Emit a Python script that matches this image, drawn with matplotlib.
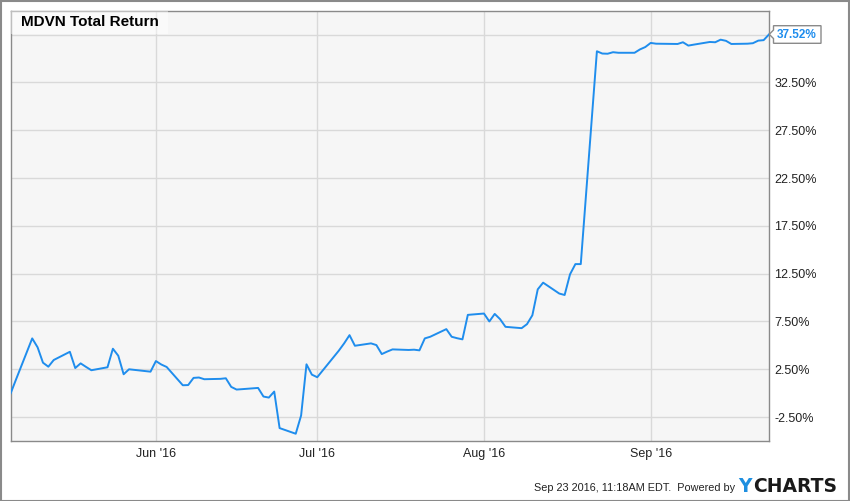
import matplotlib
matplotlib.use("Agg")
import matplotlib.pyplot as plt
from matplotlib.patches import Rectangle, Polygon
import datetime as dt

plt.rcParams['font.family'] = ['Liberation Sans', 'DejaVu Sans']

dates = [
    "2016-05-05", "2016-05-06", "2016-05-09", "2016-05-10", "2016-05-11", "2016-05-12", "2016-05-13",
    "2016-05-16", "2016-05-17", "2016-05-18", "2016-05-19", "2016-05-20",
    "2016-05-23", "2016-05-24", "2016-05-25", "2016-05-26", "2016-05-27",
    "2016-05-31", "2016-06-01", "2016-06-02", "2016-06-03",
    "2016-06-06", "2016-06-07", "2016-06-08", "2016-06-09", "2016-06-10",
    "2016-06-13", "2016-06-14", "2016-06-15", "2016-06-16", "2016-06-17",
    "2016-06-20", "2016-06-21", "2016-06-22", "2016-06-23", "2016-06-24",
    "2016-06-27", "2016-06-28", "2016-06-29", "2016-06-30", "2016-07-01",
    "2016-07-05", "2016-07-06", "2016-07-07", "2016-07-08",
    "2016-07-11", "2016-07-12", "2016-07-13", "2016-07-14", "2016-07-15",
    "2016-07-18", "2016-07-19", "2016-07-20", "2016-07-21", "2016-07-22",
    "2016-07-25", "2016-07-26", "2016-07-27", "2016-07-28", "2016-07-29",
    "2016-08-01", "2016-08-02", "2016-08-03", "2016-08-04", "2016-08-05",
    "2016-08-08", "2016-08-09", "2016-08-10", "2016-08-11", "2016-08-12",
    "2016-08-15", "2016-08-16", "2016-08-17", "2016-08-18", "2016-08-19",
    "2016-08-22", "2016-08-23", "2016-08-24", "2016-08-25", "2016-08-26",
    "2016-08-29", "2016-08-30", "2016-08-31", "2016-09-01", "2016-09-02",
    "2016-09-06", "2016-09-07", "2016-09-08", "2016-09-09",
    "2016-09-12", "2016-09-13", "2016-09-14", "2016-09-15", "2016-09-16",
    "2016-09-19", "2016-09-20", "2016-09-21", "2016-09-22", "2016-09-23",
]
total_return = [
    0.0, 1.45, 5.73, 4.8, 3.19, 2.77, 3.47,
    4.33, 2.63, 3.12, 2.75, 2.40,
    2.71, 4.65, 3.92, 1.98, 2.5,
    2.25, 3.36, 3.0, 2.74,
    0.83, 0.85, 1.6, 1.64, 1.46,
    1.5, 1.56, 0.66, 0.38, 0.42,
    0.55, -0.35, -0.46, 0.17, -3.65,
    -4.24, -2.33, 3.02, 1.94, 1.67,
    4.44, 5.21, 6.07, 4.96,
    5.21, 5.03, 4.09, 4.35, 4.58,
    4.52, 4.55, 4.48, 5.73, 5.9,
    6.7, 5.9, 5.75, 5.63, 8.19,
    8.33, 7.5, 8.29, 7.74, 6.94,
    6.80, 7.22, 8.15, 10.86, 11.56,
    10.42, 10.27, 12.43, 13.5, 13.5,
    35.76, 35.52, 35.5, 35.66, 35.6,
    35.6, 35.95, 36.2, 36.63, 36.55,
    36.52, 36.7, 36.35, 36.45,
    36.73, 36.7, 36.97, 36.85, 36.52,
    36.55, 36.6, 36.87, 36.92, 37.52,
]
ytick_values = [-2.5, 2.5, 7.5, 12.5, 17.5, 22.5, 27.5, 32.5, 37.5]
ytick_labels = ["-2.50%", "2.50%", "7.50%", "12.50%", "17.50%", "22.50%", "27.50%", "32.50%", ""]
xtick_dates = ["2016-06-01", "2016-07-01", "2016-08-01", "2016-09-01"]
xtick_labels = ["Jun '16", "Jul '16", "Aug '16", "Sep '16"]
title = "MDVN Total Return"
end_label = "37.52%"
footer = "Sep 23 2016, 11:18AM EDT.  Powered by"

W, H = 850, 501
fig = plt.figure(figsize=(W / 100, H / 100), dpi=100)
fig.patch.set_facecolor('white')

def fx(px):
    return px / W

def fy(py):
    return 1 - py / H

L, R, T, B = 10.7, 769.0, 10.7, 441.0
ax = fig.add_axes([fx(L), fy(B), fx(R) - fx(L), fy(T) - fy(B)])
ax.set_facecolor('#f6f6f6')

x = [dt.datetime.strptime(d, "%Y-%m-%d") for d in dates]
blue = '#1f8ded'
ax.plot(x, total_return, color=blue, lw=1.4, zorder=3, solid_joinstyle='round')

ax.set_xlim(x[0], x[-1])
ax.set_ylim(-5, 40)

ax.set_yticks(ytick_values)
ax.set_yticklabels(ytick_labels)
ax.yaxis.tick_right()
ax.set_xticks([dt.datetime.strptime(d, "%Y-%m-%d") for d in xtick_dates])
ax.set_xticklabels(xtick_labels)
ax.tick_params(axis='both', length=0, labelsize=9, colors='#222222')
ax.tick_params(axis='y', pad=4)
ax.tick_params(axis='x', pad=5)
ax.grid(True, color='#d9d9d9', lw=1.0, zorder=0)
ax.set_axisbelow(True)
for s in ax.spines.values():
    s.set_color('#8a8a8a')
    s.set_linewidth(1.0)

# title box
fig.patches.append(Rectangle((fx(L), fy(34.3)), fx(168) - fx(L), fy(T) - fy(34.3),
                             transform=fig.transFigure, facecolor='white', alpha=0.45,
                             edgecolor='none', zorder=5))
fig.text(fx(21), fy(22.5), title, fontsize=11, fontweight='bold', color='black',
         ha='left', va='center', zorder=6)

# end value label
poly = Polygon([(fx(769.3), fy(34.3)), (fx(773.5), fy(30.0)), (fx(773.5), fy(25.7)),
                (fx(821), fy(25.7)), (fx(821), fy(43.3)), (fx(773.5), fy(43.3)),
                (fx(773.5), fy(38.6))], closed=True, transform=fig.transFigure,
               facecolor='white', edgecolor='#8a8a8a', lw=1.0, zorder=5)
fig.patches.append(poly)
fig.text(fx(797), fy(34.8), end_label, fontsize=8.5, fontweight='bold', color=blue,
         ha='center', va='center', zorder=6)

# footer
fig.text(fx(735), fy(488), footer, fontsize=7.8, color='#222222', ha='right', va='center')
fig.text(fx(738), fy(486), "Y", fontsize=13.5, fontweight='bold', color='#1e8fe0',
         ha='left', va='center', family='DejaVu Sans')
fig.text(fx(753), fy(486), "CHARTS", fontsize=13.5, fontweight='bold', color='#1a1a1a',
         ha='left', va='center', family='DejaVu Sans')

# outer border
fig.patches.append(Rectangle((0.5 / W, 0.5 / H), 1 - 1.5 / W, 1 - 1.5 / H,
                             transform=fig.transFigure, facecolor='none',
                             edgecolor='#8a8a8a', lw=1.5, zorder=10))

fig.savefig("out.png", dpi=100, facecolor='white')
